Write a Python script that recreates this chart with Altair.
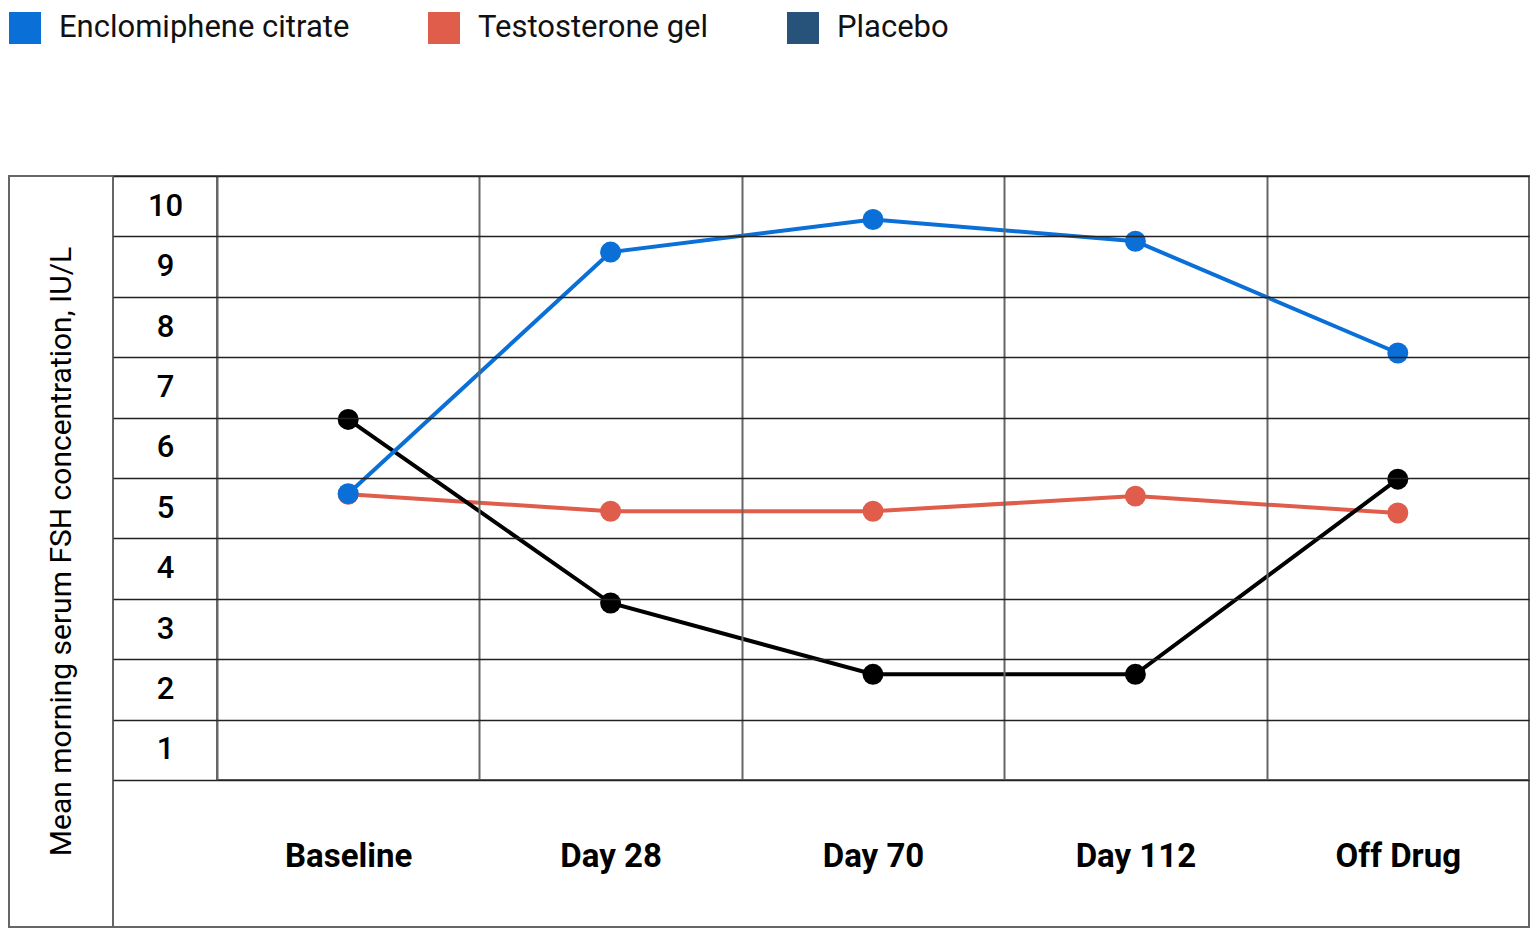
import altair as alt
import pandas as pd

# ---- data ----
timepoints = ["Baseline", "Day 28", "Day 70", "Day 112", "Off Drug"]
series_names = ["Enclomiphene citrate", "Testosterone gel", "Placebo"]
enclomiphene = [5.24, 9.24, 9.78, 9.42, 7.57]
testosterone = [5.23, 4.95, 4.95, 5.20, 4.92]
placebo = [6.47, 3.43, 2.25, 2.25, 5.48]
y_tick_labels = ["10", "9", "8", "7", "6", "5", "4", "3", "2", "1"]
y_title = "Mean morning serum FSH concentration, IU/L"

legend_colors = ["#0a6fd6", "#e05d4b", "#27527a"]
draw_order = ["Testosterone gel", "Placebo", "Enclomiphene citrate"]
draw_colors = ["#e05d4b", "#000000", "#0a6fd6"]   # line colours, in draw order

FONT = "Roboto"
W, H = 1312, 604          # plot (grid) area
FRAME_BOTTOM = 751        # bottom of the x-label row, relative to plot top
LEFT_FRAME = -208         # left edge of the title column, relative to plot left
TICK_COL = -104           # left edge of the tick-label column
PAD_TOP = 4

values = dict(zip(series_names, [enclomiphene, testosterone, placebo]))
rows = []
for s in draw_order:
    for t, v in zip(timepoints, values[s]):
        rows.append({"timepoint": t, "series": s, "fsh": v})
df = pd.DataFrame(rows)

grid_df = pd.DataFrame(
    [{"timepoint": t, "row": r} for t in timepoints for r in y_tick_labels]
)

x_scale = alt.Scale(type="band", domain=timepoints, paddingInner=0, paddingOuter=0)
y_q_scale = alt.Scale(domain=[0.5, 10.5], nice=False, zero=False)

# table cells: band axes give labels at centres and lines at the band edges
grid = alt.Chart(grid_df).mark_rect(opacity=0).encode(
    x=alt.X(
        "timepoint:N",
        scale=x_scale,
        axis=alt.Axis(
            title=None, tickBand="extent", ticks=False, domain=False,
            grid=True, gridColor="#666666", gridWidth=2,
            labelAngle=0, labelFontSize=33, labelFontWeight="bold",
            labelColor="#000000", labelBaseline="middle", labelPadding=76,
        ),
    ),
    y=alt.Y(
        "row:N",
        scale=alt.Scale(type="band", domain=y_tick_labels, paddingInner=0, paddingOuter=0),
        axis=alt.Axis(
            title=y_title, titleAngle=270, titleX=-156, titleY=375,
            titleAlign="center", titleBaseline="middle", titleFontSize=30,
            titleFontWeight="normal", titleColor="#000000",
            tickBand="extent", tickSize=104, tickColor="#222222", tickWidth=1.4,
            grid=True, gridColor="#222222", gridWidth=1.4, domain=False,
            labelAlign="center", labelBaseline="middle", labelPadding=-52,
            labelFontSize=31, labelFontWeight=500, labelColor="#000000",
        ),
    ),
)

frame_data = pd.DataFrame({"k": [0]})
outer_frame = alt.Chart(frame_data).mark_rect(
    fillOpacity=0, stroke="#666666", strokeWidth=2
).encode(
    x=alt.value(LEFT_FRAME), x2=alt.value(W),
    y=alt.value(0), y2=alt.value(FRAME_BOTTOM),
)
title_col_line = alt.Chart(frame_data).mark_rule(
    stroke="#666666", strokeWidth=2
).encode(
    x=alt.value(TICK_COL), y=alt.value(0), y2=alt.value(FRAME_BOTTOM)
)

base = alt.Chart(df).encode(
    x=alt.X("timepoint:N", scale=x_scale, bandPosition=0.5),
    y=alt.Y("fsh:Q", scale=y_q_scale, axis=None),
)

lines = base.mark_line(strokeWidth=4).encode(
    stroke=alt.Stroke(
        "series:N", scale=alt.Scale(domain=draw_order, range=draw_colors), legend=None
    ),
)

# legend shows the reference's legend colours; the placebo marks are drawn black
points = base.mark_circle(size=440, opacity=1).encode(
    color=alt.Color(
        "series:N",
        scale=alt.Scale(domain=series_names, range=legend_colors),
        condition={"test": "datum.series === 'Placebo'", "value": "#000000"},
        legend=alt.Legend(
            orient="none", legendX=LEFT_FRAME, legendY=-(168 - PAD_TOP),
            direction="horizontal",
            title=None, symbolType="square", symbolSize=1024, symbolOpacity=1,
            symbolStrokeWidth=0, labelFontSize=31, labelOffset=18,
            columnPadding=78, labelColor="#111111", labelLimit=1000,
        ),
    ),
)

chart = (
    alt.layer(grid, outer_frame, title_col_line, lines, points)
    .resolve_scale(y="independent")
    .properties(
        width=W, height=H,
        padding={"top": PAD_TOP, "left": 0, "right": 0, "bottom": 0},
    )
    .configure_view(stroke="#666666", strokeWidth=2)
    .configure_axis(labelFont=FONT, titleFont=FONT)
    .configure_legend(labelFont=FONT)
)

chart.save("out.html", embed_options={"renderer": "svg", "actions": False})
